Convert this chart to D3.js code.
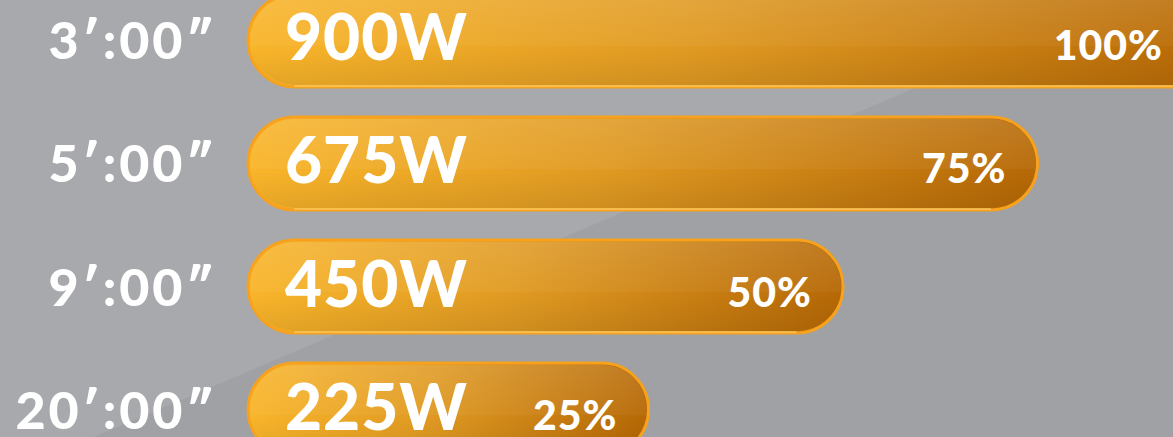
<!DOCTYPE html>
<html>
<head>
<meta charset="utf-8">
<script src="https://cdn.jsdelivr.net/npm/d3@7"></script>
<style>
  html, body { margin: 0; padding: 0; background: #a6a8ab; }
  svg { display: block; }
</style>
</head>
<body>
<svg id="chart"></svg>
<script>
// data
const times = ["3\u2032:00\u2033", "5\u2032:00\u2033", "9\u2032:00\u2033", "20\u2032:00\u2033"];
const watts = [900, 675, 450, 225];
const percents = ["100%", "75%", "50%", "25%"];

const width = 1173, height = 437;
const barLeft = 248;

const svg = d3.select("#chart")
  .attr("width", width)
  .attr("height", height);

const defs = svg.append("defs");

// bar colour, yellow on the left to brown on the right
let hGrad = defs.append("linearGradient")
  .attr("id", "barFill")
  .attr("x1", "0%").attr("x2", "100%")
  .attr("y1", "0%").attr("y2", "0%");
hGrad.append("stop").attr("offset", "0%").attr("stop-color", "#f9b52a");
hGrad.append("stop").attr("offset", "45%").attr("stop-color", "#e09a22");
hGrad.append("stop").attr("offset", "100%").attr("stop-color", "#b66805");

// glossy top half
let gloss = defs.append("linearGradient")
  .attr("id", "gloss")
  .attr("x1", "0%").attr("x2", "0%")
  .attr("y1", "0%").attr("y2", "100%");
gloss.append("stop").attr("offset", "0%").attr("stop-color", "#fff").attr("stop-opacity", 0.12);
gloss.append("stop").attr("offset", "56%").attr("stop-color", "#fff").attr("stop-opacity", 0.04);
gloss.append("stop").attr("offset", "58%").attr("stop-color", "#000").attr("stop-opacity", 0.0);
gloss.append("stop").attr("offset", "100%").attr("stop-color", "#000").attr("stop-opacity", 0.08);

// background: lighter upper left, a bit darker lower right
svg.append("rect")
  .attr("width", width).attr("height", height)
  .attr("fill", "#a7a9ac");
svg.append("path")
  .attr("d", `M0,${height + 40} L1122,0 L${width},0 L${width},${height} Z`)
  .attr("fill", "#9fa1a5");

const yScale = d3.scaleBand()
  .domain(times)
  .range([-6, 456])
  .paddingInner(0.245)
  .paddingOuter(0);

const xScale = d3.scaleLinear()
  .domain([0, 900])
  .range([454, 1232]);

const rows = times.map((t, i) => ({ time: t, watt: watts[i], pct: percents[i] }));

const bh = yScale.bandwidth();

const g = svg.selectAll(".row")
  .data(rows)
  .join("g")
    .attr("class", "row");

g.append("rect")
  .attr("x", barLeft)
  .attr("y", d => yScale(d.time))
  .attr("width", d => xScale(d.watt) - barLeft)
  .attr("height", bh)
  .attr("rx", bh / 2)
  .attr("fill", "url(#barFill)")
  .attr("stroke", "#f6a21f")
  .attr("stroke-width", 3);

g.append("rect")
  .attr("x", barLeft + 2)
  .attr("y", d => yScale(d.time) + 2)
  .attr("width", d => xScale(d.watt) - barLeft - 4)
  .attr("height", bh - 4)
  .attr("rx", bh / 2 - 2)
  .attr("fill", "url(#gloss)");

// thin light line along the bottom edge
g.append("line")
  .attr("x1", barLeft + bh / 2)
  .attr("x2", d => xScale(d.watt) - bh / 2)
  .attr("y1", d => yScale(d.time) + bh - 1)
  .attr("y2", d => yScale(d.time) + bh - 1)
  .attr("stroke", "#ffcf6a")
  .attr("stroke-opacity", 0.8)
  .attr("stroke-width", 1.5);

const font = "Lato, 'Open Sans', sans-serif";

g.append("text")
  .attr("x", 217)
  .attr("y", d => yScale(d.time) + bh / 2 + 19)
  .attr("text-anchor", "end")
  .attr("font-family", font)
  .attr("font-weight", 900)
  .attr("letter-spacing", 3)
  .style("font-size", "52px")
  .attr("fill", "#fff")
  .text(d => d.time);

g.append("text")
  .attr("x", barLeft + 37)
  .attr("y", d => yScale(d.time) + bh / 2 + 20)
  .attr("text-anchor", "start")
  .attr("font-family", font)
  .attr("font-weight", 900)
  .attr("letter-spacing", 1)
  .style("font-size", "64px")
  .attr("fill", "#fff")
  .text(d => d.watt + "W");

g.append("text")
  .attr("x", d => Math.min(xScale(d.watt) - 31, width - 10))
  .attr("y", d => yScale(d.time) + bh / 2 + 20)
  .attr("text-anchor", "end")
  .attr("font-family", font)
  .attr("font-weight", 900)
  .attr("letter-spacing", 1)
  .style("font-size", "41px")
  .attr("fill", "#fff")
  .text(d => d.pct);
</script>
</body>
</html>
